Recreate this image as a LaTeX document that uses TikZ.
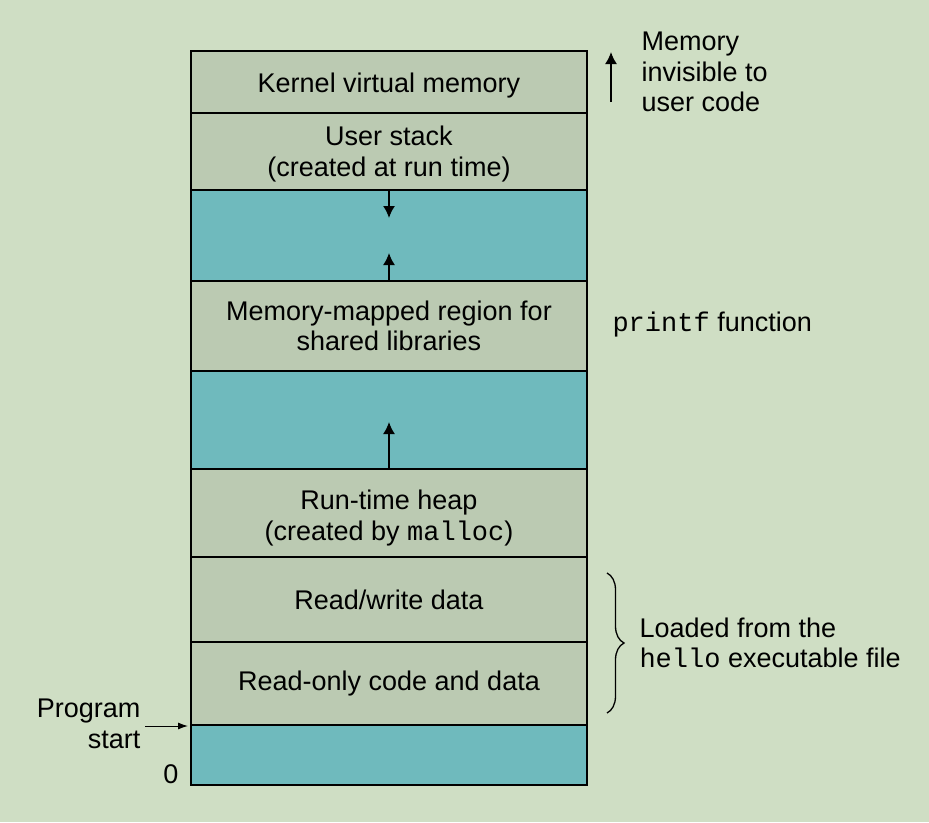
\documentclass[tikz,border=0pt]{standalone}
\usepackage{fontspec}
\setmainfont{Liberation Sans}
\setmonofont{Liberation Mono}
\usetikzlibrary{positioning,arrows.meta,decorations.pathreplacing}
\definecolor{bggreen}{RGB}{207,222,196}
\definecolor{segment}{RGB}{187,202,178}
\definecolor{hole}{RGB}{111,186,189}
\begin{document}
\begin{tikzpicture}[x=1pt,y=-1pt,
  every node/.style={font=\fontsize{27}{30.5}\selectfont},
  area/.style={draw, line width=2.6pt, fill=segment, minimum width=396pt, inner sep=0pt, outer sep=0pt, align=center},
  gap/.style={area, fill=hole},
  growarrow/.style={-{Latex[length=12pt,width=12pt]}, line width=1.6pt},
  note/.style={align=left, anchor=west}]
\fill[bggreen] (0,0) rectangle (929,822);
\useasboundingbox (0,0) rectangle (929,822);
\node[area, minimum height=62pt, anchor=north] (kernel) at (389,51) {\rule{0pt}{26pt}Kernel virtual memory};
\node[area, minimum height=77pt, below=0pt of kernel] (stack) {\rule{0pt}{25pt}User stack\\(created at run time)};
\node[gap, minimum height=91pt, below=0pt of stack] (gapa) {};
\node[area, minimum height=90pt, below=0pt of gapa] (shlib) {Memory-mapped region for\\shared libraries};
\node[gap, minimum height=98pt, below=0pt of shlib] (gapb) {};
\node[area, minimum height=88pt, below=0pt of gapb] (heap) {\rule{0pt}{30pt}Run-time heap\\(created by \texttt{malloc})};
\node[area, minimum height=85pt, below=0pt of heap] (rw) {Read/write data};
\node[area, minimum height=83pt, below=0pt of rw] (ro) {Read-only code and data};
\node[gap, minimum height=60pt, below=0pt of ro] (low) {};

\coordinate[below=28pt of stack.south] (stacktip);
\coordinate[above=28pt of shlib.north] (libtip);
\coordinate[above=47pt of heap.north] (heaptip);
\draw[growarrow] (stack.south) -- (stacktip);
\draw[growarrow] (shlib.north) -- (libtip);
\draw[growarrow] (heap.north) -- (heaptip);

\node[note] (invisible) at (638,72) {Memory\\invisible to\\user code};
\coordinate (invbot) at (611,102);
\coordinate (invtop) at (611,52);
\draw[growarrow] (invbot) -- (invtop);

\node[note] (printf) at (609,325) {\texttt{printf} function};

\coordinate (bracetop) at (607,573);
\coordinate (bracebot) at (607,713);
\draw[decorate, decoration={brace, amplitude=17pt}, line width=1.3pt] (bracetop) -- (bracebot);
\node[note] (loaded) at (636,643) {Loaded from the\\\texttt{hello} executable file};

\node[align=right, anchor=east] (start) at (144,724) {Program\\start};
\coordinate (startfrom) at (145,726);
\coordinate (startto) at (188,726);
\draw[-{Latex[length=10pt,width=7pt]}, line width=1pt] (startfrom) -- (startto);
\node (zero) at (171,774) {0};
\end{tikzpicture}
\end{document}
